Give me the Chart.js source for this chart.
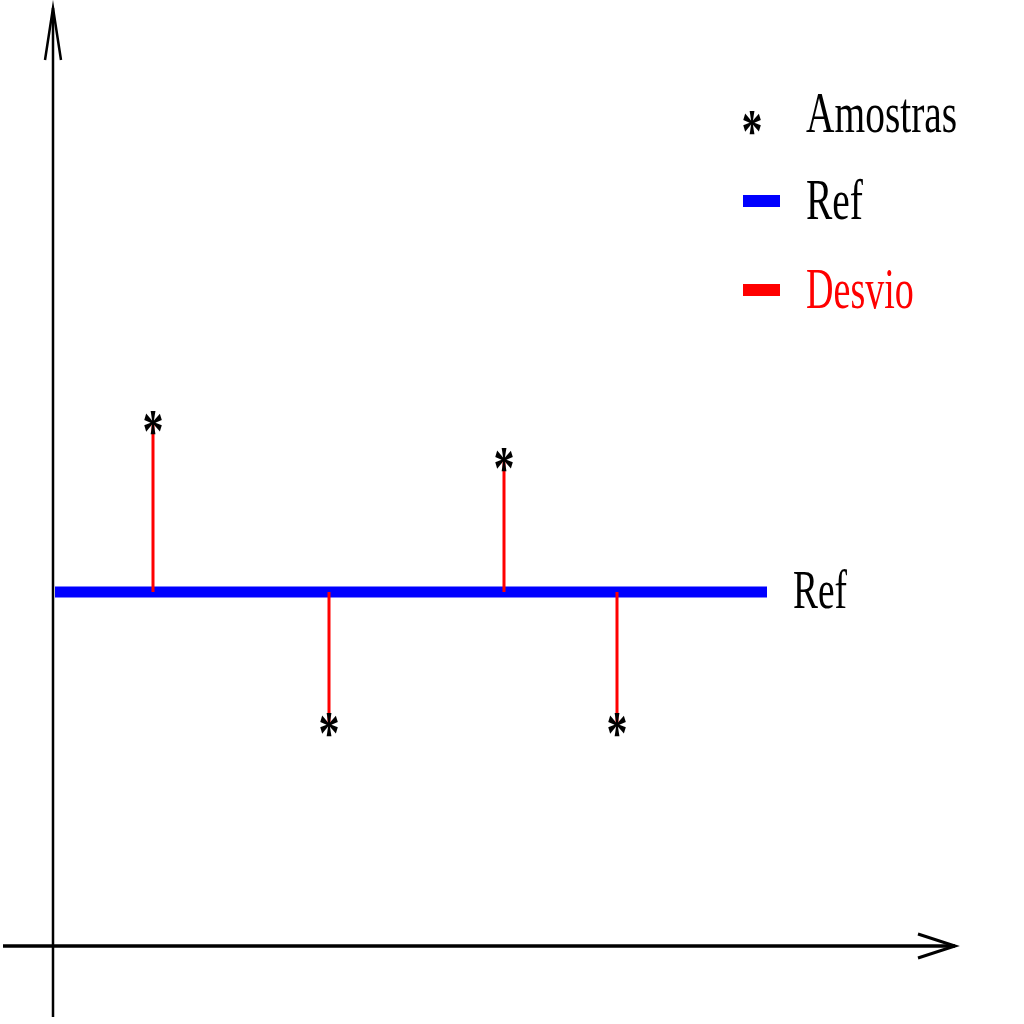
<!DOCTYPE html>
<html>
<head>
<meta charset="utf-8">
<script src="https://cdn.jsdelivr.net/npm/chart.js@4/dist/chart.umd.min.js"></script>
<style>html,body{margin:0;padding:0;background:#fff;}</style>
</head>
<body>
<canvas id="myCanvas" width="1024" height="1024"></canvas>
<script>
// data (units: axis origin at 0,0)
var sampleX = [1.00, 2.76, 4.51, 5.64];
var sampleY = [5.23, 2.21, 4.86, 2.21];
var refValue = 3.54;
var refRange = [0.02, 7.14];
var legendLabels = ['Amostras', 'Ref', 'Desvio'];
var refLabel = 'Ref';

var FONT = '"Liberation Serif", "Times New Roman", serif';
var SQUISH = 0.68;

// asterisk glyph used as point style
var star = document.createElement('canvas');
star.width = 28; star.height = 32;
(function(){
    var c = star.getContext('2d');
    c.font = 'bold 62px ' + FONT;
    var m = c.measureText('*');
    c.translate(14, 16);
    c.scale(SQUISH, 1);
    c.fillStyle = '#000';
    c.fillText('*', -(m.actualBoundingBoxRight - m.actualBoundingBoxLeft) / 2,
        (m.actualBoundingBoxAscent - m.actualBoundingBoxDescent) / 2);
})();

var samples = sampleX.map(function(x, i){ return {x: x, y: sampleY[i]}; });
var stems = [];
sampleX.forEach(function(x, i){
    stems.push({x: x, y: refValue}, {x: x, y: sampleY[i]}, {x: x, y: null});
});
var refLine = [{x: refRange[0], y: refValue}, {x: refRange[1], y: refValue}];

function squishText(ctx, text, x, y, size, color){
    ctx.save();
    ctx.translate(x, y);
    ctx.scale(SQUISH, 1);
    ctx.font = size + 'px ' + FONT;
    ctx.fillStyle = color;
    ctx.textBaseline = 'alphabetic';
    ctx.fillText(text, 0, 0);
    ctx.restore();
}

// axes with arrow heads
var axesPlugin = {
    id: 'axes',
    beforeDatasetsDraw: function(chart){
        var ctx = chart.ctx, xs = chart.scales.x, ys = chart.scales.y;
        var ox = xs.getPixelForValue(0), oy = ys.getPixelForValue(0);
        ctx.save();
        ctx.strokeStyle = '#000';
        ctx.lineCap = 'butt';
        // x axis
        ctx.lineWidth = 3.5;
        ctx.beginPath();
        ctx.moveTo(3, oy); ctx.lineTo(955, oy);
        ctx.stroke();
        ctx.lineWidth = 3;
        ctx.beginPath();
        ctx.moveTo(918, oy - 12); ctx.lineTo(955, oy); ctx.lineTo(918, oy + 12);
        ctx.stroke();
        // y axis
        ctx.lineWidth = 2.5;
        ctx.beginPath();
        ctx.moveTo(ox, 1017); ctx.lineTo(ox, 8);
        ctx.stroke();
        ctx.beginPath();
        ctx.moveTo(ox - 8, 60); ctx.lineTo(ox, 8); ctx.lineTo(ox + 8, 60);
        ctx.stroke();
        ctx.restore();
    },
    afterDraw: function(chart){
        var ctx = chart.ctx, xs = chart.scales.x, ys = chart.scales.y;
        // label at end of ref line
        squishText(ctx, refLabel, xs.getPixelForValue(refRange[1]) + 26, ys.getPixelForValue(refValue) + 16, 55, '#000');
        // legend
        ctx.save();
        ctx.drawImage(star, 752 - star.width / 2, 123 - star.height / 2);
        ctx.fillStyle = '#0000ff';
        ctx.fillRect(743, 195, 37, 12);
        ctx.fillStyle = '#ff0000';
        ctx.fillRect(743, 284, 37, 12);
        ctx.restore();
        squishText(ctx, legendLabels[0], 806, 132, 58, '#000');
        squishText(ctx, legendLabels[1], 806, 219, 58, '#000');
        squishText(ctx, legendLabels[2], 806, 308, 56, '#ff0000');
    }
};

var ctx = document.getElementById('myCanvas').getContext('2d');
var myChart = new Chart(ctx, {
    type: 'line',
    data: {
        datasets: [{
            label: legendLabels[0],
            data: samples,
            showLine: false,
            pointStyle: star,
            pointRadius: 8,
            pointHoverRadius: 8
        }, {
            label: legendLabels[2],
            data: stems,
            borderColor: '#ff0000',
            borderWidth: 3,
            pointRadius: 0,
            spanGaps: false
        }, {
            label: legendLabels[1],
            data: refLine,
            borderColor: '#0000ff',
            borderWidth: 11,
            borderCapStyle: 'butt',
            pointRadius: 0
        }]
    },
    options: {
        responsive: false,
        animation: false,
        layout: {padding: 0, autoPadding: false},
        plugins: {legend: {display: false}, tooltip: {enabled: false}},
        scales: {
            x: {type: 'linear', min: -0.53, max: 9.71, display: false},
            y: {type: 'linear', min: -0.78, max: 9.46, display: false}
        }
    },
    plugins: [axesPlugin]
});
</script>
</body>
</html>
